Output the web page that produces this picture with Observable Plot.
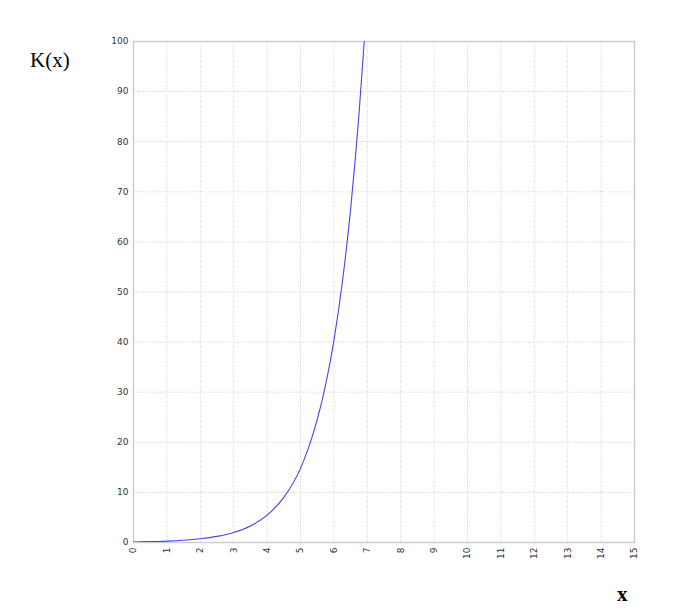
<!DOCTYPE html>
<html>
<head>
<meta charset="utf-8">
<script src="https://cdn.jsdelivr.net/npm/d3@7"></script>
<script src="https://cdn.jsdelivr.net/npm/@observablehq/plot@0.6"></script>
<style>
  html, body { margin: 0; padding: 0; background: #fff; }
  #chart { position: relative; width: 680px; height: 614px; }
  .lbl { position: absolute; font-family: "Liberation Serif", "DejaVu Serif", serif; color: #000; }
</style>
</head>
<body>
<div id="chart">
  <div class="lbl" style="left:30px; top:48px; font-size:21px;">K(x)</div>
  <div class="lbl" style="left:617px; top:582px; font-size:21px; font-weight:bold;">x</div>
</div>
<script>
// Values
const xs = [0, 0.5, 1, 1.5, 2, 2.5, 3, 3.5, 4, 4.5, 5, 5.25, 5.5, 5.75, 6, 6.25, 6.5, 6.75, 6.9, 7.0];
const ks = [0.1, 0.165, 0.27, 0.45, 0.74, 1.22, 2.0, 3.3, 5.46, 9.0, 14.8, 19.1, 24.5, 31.4, 40.3, 51.8, 66.5, 85.4, 99.2, 109.7];
const xTicks = d3.range(0, 16);
const yTicks = d3.range(0, 101, 10);

const data = xs.map((x, i) => ({x, k: ks[i]}));

const chart = Plot.plot({
  width: 680,
  height: 614,
  marginLeft: 133,
  marginRight: 46,
  marginTop: 41,
  marginBottom: 72,
  style: {fontFamily: "DejaVu Sans, sans-serif", fontSize: "9px", color: "#333", background: "#fff"},
  x: {domain: [0, 15]},
  y: {domain: [0, 100]},
  marks: [
    Plot.gridX(xTicks, {stroke: "#cfcfcf", strokeOpacity: 1, strokeDasharray: "1,1.5"}),
    Plot.gridY(yTicks, {stroke: "#cfcfcf", strokeOpacity: 1, strokeDasharray: "1,1.5"}),
    Plot.frame({stroke: "#cdcdcd", strokeWidth: 1.5}),
    Plot.line(data, {x: "x", y: "k", stroke: "#4646ea", strokeWidth: 1.1, curve: "monotone-x", clip: true}),
    Plot.axisX(xTicks, {tickSize: 0, tickPadding: 5, tickRotate: -90, label: null, fontSize: 9}),
    Plot.axisY(yTicks, {tickSize: 0, tickPadding: 5, label: null, fontSize: 9})
  ]
});
chart.style.position = "absolute";
chart.style.left = "0";
chart.style.top = "0";
document.getElementById("chart").prepend(chart);
</script>
</body>
</html>
